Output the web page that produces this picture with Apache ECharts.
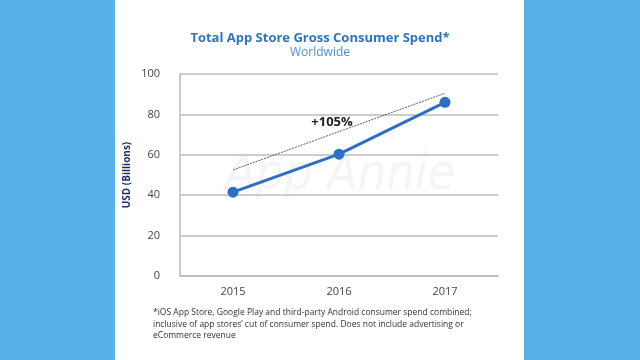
<!DOCTYPE html>
<html><head><meta charset="utf-8">
<script src="https://cdn.jsdelivr.net/npm/echarts@6/dist/echarts.min.js"></script>
<style>html,body{margin:0;padding:0;background:#58b0e8;}#c{width:640px;height:360px;}</style>
</head><body><div id="c"></div>
<script>
var categories = ['2015', '2016', '2017'];
var spend = [41.5, 60.3, 86];
var yTicks = [0, 20, 40, 60, 80, 100];
var arrowStart = ['2015', 52.5];
var arrowEnd = ['2017', 90.5];
var growthLabel = '+105%';
var growthAt = ['2016', 76];

var chart = echarts.init(document.getElementById('c'));
chart.setOption({
  animation: false,
  backgroundColor: '#58b0e8',
  graphic: [
    {type: 'rect', shape: {x: 115, y: 0, width: 409, height: 360}, style: {fill: '#ffffff'}, z: -10},
    {type: 'text', left: 'center', top: 32, style: {text: 'Total App Store Gross Consumer Spend*', fill: '#2f74bd', font: 'bold 13px "Open Sans", sans-serif'}},
    {type: 'text', left: 'center', top: 47, style: {text: 'Worldwide', fill: '#4a8fd6', font: '12px "Open Sans", sans-serif'}},
    {type: 'text', x: 340, y: 176, style: {text: 'App Annie', fill: '#f4f5f8', font: 'italic 50px "DejaVu Sans Condensed", sans-serif', align: 'center', verticalAlign: 'middle'}, z: -1},
    {type: 'text', x: 153, y: 307, style: {text: '*iOS App Store, Google Play and third-party Android consumer spend combined;\ninclusive of app stores\u2019 cut of consumer spend. Does not include advertising or\neCommerce revenue', fill: '#333333', font: '8.5px "Open Sans", sans-serif', lineHeight: 11.5}}
  ],
  grid: {left: 180, right: 142, top: 74, bottom: 84},
  xAxis: {
    type: 'category', data: categories, boundaryGap: true,
    axisLine: {lineStyle: {color: '#b8b8b8', width: 1.5}},
    axisTick: {show: false},
    axisLabel: {color: '#444', fontSize: 11, margin: 10, fontFamily: '"Open Sans", sans-serif'}
  },
  yAxis: {
    type: 'value', min: 0, max: 100, interval: 20,
    name: 'USD (Billions)', nameLocation: 'middle', nameGap: 48, nameRotate: 90,
    nameTextStyle: {color: '#1d2f5e', fontWeight: 'bold', fontSize: 10, fontFamily: '"Open Sans", sans-serif'},
    axisLine: {show: true, lineStyle: {color: '#b8b8b8', width: 1.5}},
    axisTick: {show: false},
    splitLine: {lineStyle: {color: '#bdbdbd', width: 1.5}},
    axisLabel: {color: '#444', fontSize: 11, margin: 20, fontFamily: '"Open Sans", sans-serif',
      formatter: function (v) { return yTicks.indexOf(v) >= 0 ? String(v) : ''; }}
  },
  series: [{
    type: 'line', data: spend,
    symbol: 'circle', symbolSize: 11,
    lineStyle: {color: '#2e6fc4', width: 3},
    itemStyle: {color: '#2e6fc4'},
    markLine: {
      silent: true, symbol: ['none', 'arrow'], symbolSize: [0, 6],
      lineStyle: {color: '#333', type: [2, 1], width: 0.8},
      label: {show: false},
      data: [[{coord: arrowStart}, {coord: arrowEnd}]]
    },
    markPoint: {
      symbol: 'circle', symbolSize: 0,
      label: {show: true, formatter: growthLabel, color: '#222', fontSize: 13, fontWeight: 'bold', fontFamily: '"Open Sans", sans-serif', offset: [-7, 0]},
      data: [{coord: growthAt}]
    }
  }]
});
</script></body></html>
